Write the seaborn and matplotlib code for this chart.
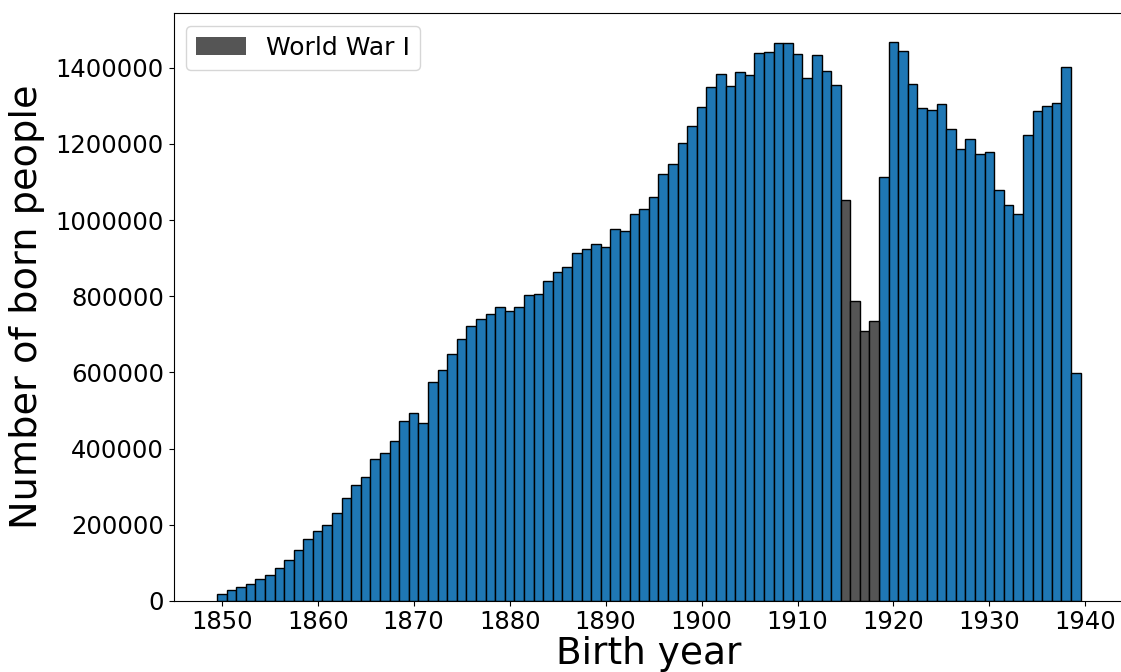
import matplotlib
matplotlib.use("Agg")
import matplotlib.pyplot as plt
from matplotlib.patches import Patch
import seaborn as sns
import pandas as pd

# Births per year
years = list(range(1850, 1940))
births = [
    19000, 27000, 37000, 45000, 58000, 67000, 87000, 108000, 133000, 161000,
    183000, 198000, 231000, 270000, 303000, 324000, 373000, 387000, 420000, 473000,
    493000, 468000, 576000, 606000, 647000, 689000, 721000, 739000, 754000, 772000,
    761000, 771000, 803000, 805000, 840000, 865000, 878000, 914000, 924000, 937000,
    930000, 976000, 971000, 1015000, 1029000, 1062000, 1122000, 1148000, 1202000, 1246000,
    1297000, 1349000, 1384000, 1352000, 1390000, 1380000, 1438000, 1442000, 1466000, 1466000,
    1437000, 1373000, 1434000, 1391000, 1356000, 1052000, 787000, 709000, 735000, 1113000,
    1467000, 1445000, 1358000, 1294000, 1289000, 1304000, 1240000, 1188000, 1212000, 1173000,
    1178000, 1079000, 1040000, 1017000, 1224000, 1286000, 1300000, 1307000, 1402000, 598000,
]
war_years = [1915, 1916, 1917, 1918]
war_color = "#555555"

df = pd.DataFrame({"year": years, "births": births})
df["war"] = df["year"].isin(war_years)

fig = plt.figure(figsize=(11.21, 6.72), dpi=100)
ax = fig.add_axes([0.155, 0.106, 0.8475, 0.874])

# peace-time bars
sns.histplot(data=df[~df["war"]], x="year", weights="births", discrete=True,
             color="#1f77b4", edgecolor="black", linewidth=1, alpha=1, ax=ax)
# war-time bars
sns.histplot(data=df[df["war"]], x="year", weights="births", discrete=True,
             color=war_color, edgecolor="black", linewidth=1, alpha=1, ax=ax)

ax.set_xlim(1845, 1944)
ax.set_ylim(0, 1543000)
ax.set_xticks(range(1850, 1941, 10))
ax.ticklabel_format(axis="y", style="plain")
ax.tick_params(labelsize=17.5)
ax.set_xlabel("Birth year", fontsize=27, labelpad=1)
ax.set_ylabel("Number of born people", fontsize=27.5, labelpad=8)
ax.legend(handles=[Patch(facecolor=war_color, label="World War I")],
          loc="upper left", fontsize=18)

fig.savefig("out.png", dpi=100)
